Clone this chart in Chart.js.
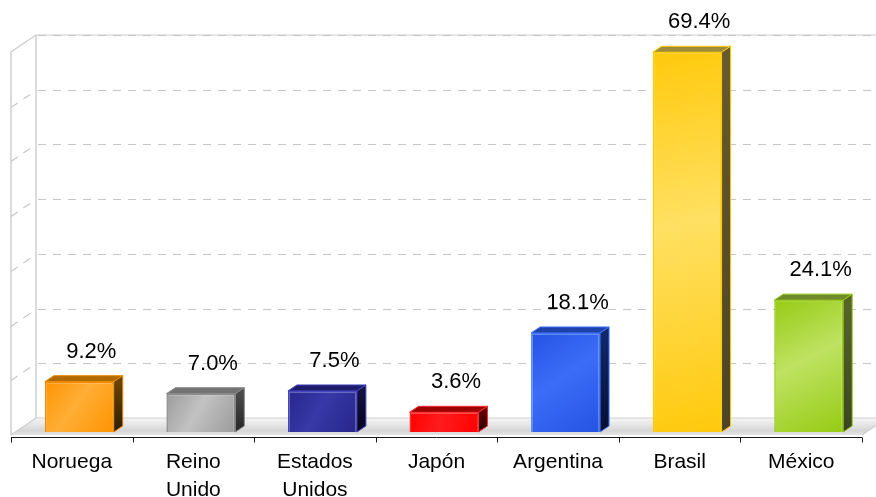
<!DOCTYPE html>
<html>
<head>
<meta charset="utf-8">
<script src="https://cdn.jsdelivr.net/npm/chart.js@4.4.1/dist/chart.umd.min.js"></script>
<style>
  html, body { margin: 0; padding: 0; background: #ffffff; }
  #wrap { width: 876px; height: 497px; }
</style>
</head>
<body>
<div id="wrap"><canvas id="c" width="876" height="497"></canvas></div>
<script>
// Categories (multi-line labels as arrays) and their values in percent
const categories = [['Noruega'], ['Reino', 'Unido'], ['Estados', 'Unidos'], ['Japón'], ['Argentina'], ['Brasil'], ['México']];
const values = [9.2, 7.0, 7.5, 3.6, 18.1, 69.4, 24.1];
const gridValues = [10, 20, 30, 40, 50, 60, 70];
const axisMax = 70;

// Per-bar colours: front gradient, outline, top face, side face
const frontDark  = ['#ff9300', '#9c9c9c', '#26268a', '#ff0000', '#2553e2', '#ffc90c', '#96cb14'];
const frontLight = ['#ffae36', '#c2c2c2', '#3838a8', '#ff1c1c', '#3b6df8', '#ffe062', '#bfe262'];
const outline    = ['#f08a00', '#8a8a8a', '#4444c4', '#ff2a2a', '#4075ff', '#ffcc00', '#92c80c'];
const topFace    = ['#b06a00', '#727272', '#1c1c68', '#9c0000', '#1e41aa', '#a08b3a', '#6f8b2c'];
const sideFace   = ['#6a4300', '#4a4a4a', '#12123f', '#5a0000', '#10286a', '#695a2c', '#56662a'];
const sideDeep   = ['#2e1d00', '#262626', '#05051c', '#2a0000', '#050f30', '#4c4326', '#3b4423'];

// Box geometry of the pseudo-3D scene
const BAR_SHIFT = 7.5;   // bars sit slightly to the right of the category centre
const BAR_DX = 9, BAR_DY = -6;     // bar depth
const WALL_DX = 25, WALL_DY = -17; // floor / wall depth
const FRONT_DROP = 3;              // front edge of the floor below the bar plane

function frontGradient(context) {
  const chart = context.chart;
  const xs = chart.scales.x, ys = chart.scales.y;
  if (!xs || !ys || !chart.chartArea) return frontDark[context.dataIndex];
  const i = context.dataIndex;
  const cx = xs.getPixelForValue(i);
  const w = xs.getPixelForValue(1) - xs.getPixelForValue(0);
  const bw = w * 0.567;
  const top = ys.getPixelForValue(values[i]);
  const bot = ys.getPixelForValue(0);
  const g = chart.ctx.createLinearGradient(cx - bw / 2, top, cx + bw / 2, bot);
  g.addColorStop(0, frontDark[i]);
  g.addColorStop(0.45, frontLight[i]);
  g.addColorStop(1, frontDark[i]);
  return g;
}

const scene = {
  id: 'scene',
  beforeDatasetsDraw(chart) {
    const { ctx, chartArea: a, scales: { x, y } } = chart;
    const L = a.left, R = a.right;
    const yFront0 = y.getPixelForValue(0) + FRONT_DROP;
    const yFrontTop = y.getPixelForValue(axisMax) + FRONT_DROP;
    const yBack0 = yFront0 + WALL_DY;
    const yBackTop = yFrontTop + WALL_DY;
    const bx = L + WALL_DX;
    const W = chart.width;

    ctx.save();
    // floor
    const fg = ctx.createLinearGradient(0, yBack0, 0, yFront0);
    fg.addColorStop(0, '#f6f6f6');
    fg.addColorStop(0.75, '#d6d6d6');
    fg.addColorStop(1, '#e4e4e4');
    ctx.fillStyle = fg;
    ctx.beginPath();
    ctx.moveTo(bx, yBack0);
    ctx.lineTo(R + WALL_DX, yBack0);
    ctx.lineTo(R, yFront0);
    ctx.lineTo(L, yFront0);
    ctx.closePath();
    ctx.fill();

    ctx.strokeStyle = '#cfcfcf';
    ctx.lineWidth = 1.2;
    ctx.beginPath();
    ctx.moveTo(bx, yBack0); ctx.lineTo(W, yBack0);
    ctx.moveTo(bx, yBack0); ctx.lineTo(L, yFront0);
    ctx.moveTo(R + WALL_DX, yBack0); ctx.lineTo(R, yFront0);
    ctx.stroke();

    // back wall top edge (solid, light)
    ctx.strokeStyle = '#dedede';
    ctx.lineWidth = 1.5;
    ctx.beginPath();
    ctx.moveTo(bx, yBackTop); ctx.lineTo(W, yBackTop);
    ctx.stroke();

    // gridlines on back wall and side wall
    ctx.strokeStyle = '#c6c6c6';
    ctx.lineWidth = 1.2;
    ctx.setLineDash([8, 7]);
    gridValues.forEach(v => {
      const yy = Math.round(y.getPixelForValue(v) + FRONT_DROP + WALL_DY) + 0.5;
      ctx.beginPath();
      ctx.moveTo(bx + 2, yy); ctx.lineTo(W, yy);
      ctx.stroke();
      if (v < axisMax) {
        ctx.beginPath();
        ctx.moveTo(L, yy - WALL_DY); ctx.lineTo(bx, yy);
        ctx.stroke();
      }
    });
    ctx.setLineDash([]);

    // wall edges
    ctx.strokeStyle = '#d0d0d0';
    ctx.lineWidth = 1.5;
    ctx.beginPath();
    ctx.moveTo(bx, yBack0); ctx.lineTo(bx, yBackTop);
    ctx.moveTo(L, yFront0); ctx.lineTo(L, yFrontTop);
    ctx.lineTo(bx, yBackTop);
    ctx.stroke();

    // category axis line with boundary ticks
    const axisY = yFront0 + 2.5;
    ctx.strokeStyle = '#1a1a1a';
    ctx.lineWidth = 1;
    ctx.beginPath();
    ctx.moveTo(L, axisY); ctx.lineTo(R, axisY);
    const step = (R - L) / categories.length;
    for (let i = 0; i <= categories.length; i++) {
      const tx = Math.round(L + i * step) + 0.5;
      ctx.moveTo(tx, axisY); ctx.lineTo(tx, axisY + 5);
    }
    ctx.stroke();
    ctx.restore();

    // front faces of the bars are drawn by the library, shifted right
    ctx.save();
    ctx.translate(BAR_SHIFT, 0);
  },
  afterDatasetsDraw(chart) {
    const { ctx } = chart;
    ctx.restore();
    const meta = chart.getDatasetMeta(0);
    ctx.save();
    meta.data.forEach((el, i) => {
      const p = el.getProps(['x', 'y', 'base', 'width'], true);
      const l = p.x - p.width / 2 + BAR_SHIFT;
      const r = p.x + p.width / 2 + BAR_SHIFT;
      const top = p.y, bot = p.base;

      // top face
      ctx.fillStyle = topFace[i];
      ctx.beginPath();
      ctx.moveTo(l, top); ctx.lineTo(r, top);
      ctx.lineTo(r + BAR_DX, top + BAR_DY); ctx.lineTo(l + BAR_DX, top + BAR_DY);
      ctx.closePath();
      ctx.fill();
      ctx.strokeStyle = outline[i];
      ctx.lineWidth = 1;
      ctx.stroke();

      // side face
      const sg = ctx.createLinearGradient(0, top, 0, bot);
      sg.addColorStop(0, sideFace[i]);
      sg.addColorStop(1, sideDeep[i]);
      ctx.fillStyle = sg;
      ctx.beginPath();
      ctx.moveTo(r, top); ctx.lineTo(r + BAR_DX, top + BAR_DY);
      ctx.lineTo(r + BAR_DX, bot + BAR_DY); ctx.lineTo(r, bot);
      ctx.closePath();
      ctx.fill();
      ctx.stroke();

      // value label
      ctx.fillStyle = '#000000';
      ctx.font = '22px "Liberation Sans", Arial, sans-serif';
      ctx.textAlign = 'center';
      ctx.textBaseline = 'middle';
      ctx.fillText(values[i].toFixed(1) + '%', (l + r) / 2 + 12, top - 30);
    });
    ctx.restore();
  }
};

Chart.defaults.font.family = '"Liberation Sans", Arial, sans-serif';

new Chart(document.getElementById('c'), {
  type: 'bar',
  data: {
    labels: categories,
    datasets: [{
      data: values,
      backgroundColor: frontGradient,
      borderColor: outline,
      borderWidth: 1.5,
      barPercentage: 0.567,
      categoryPercentage: 1.0
    }]
  },
  options: {
    responsive: false,
    animation: false,
    devicePixelRatio: 1,
    layout: { padding: { left: 11, right: 14, top: 49, bottom: 0 } },
    plugins: { legend: { display: false }, tooltip: { enabled: false } },
    scales: {
      x: {
        grid: { display: false, drawTicks: false },
        border: { display: false },
        ticks: {
          color: '#000000',
          font: { size: 21, lineHeight: 1.33 },
          padding: 16,
          maxRotation: 0,
          autoSkip: false
        },
        afterFit(scale) { scale.height = 65; }
      },
      y: {
        display: false,
        min: 0,
        max: axisMax
      }
    }
  },
  plugins: [scene]
});
</script>
</body>
</html>
